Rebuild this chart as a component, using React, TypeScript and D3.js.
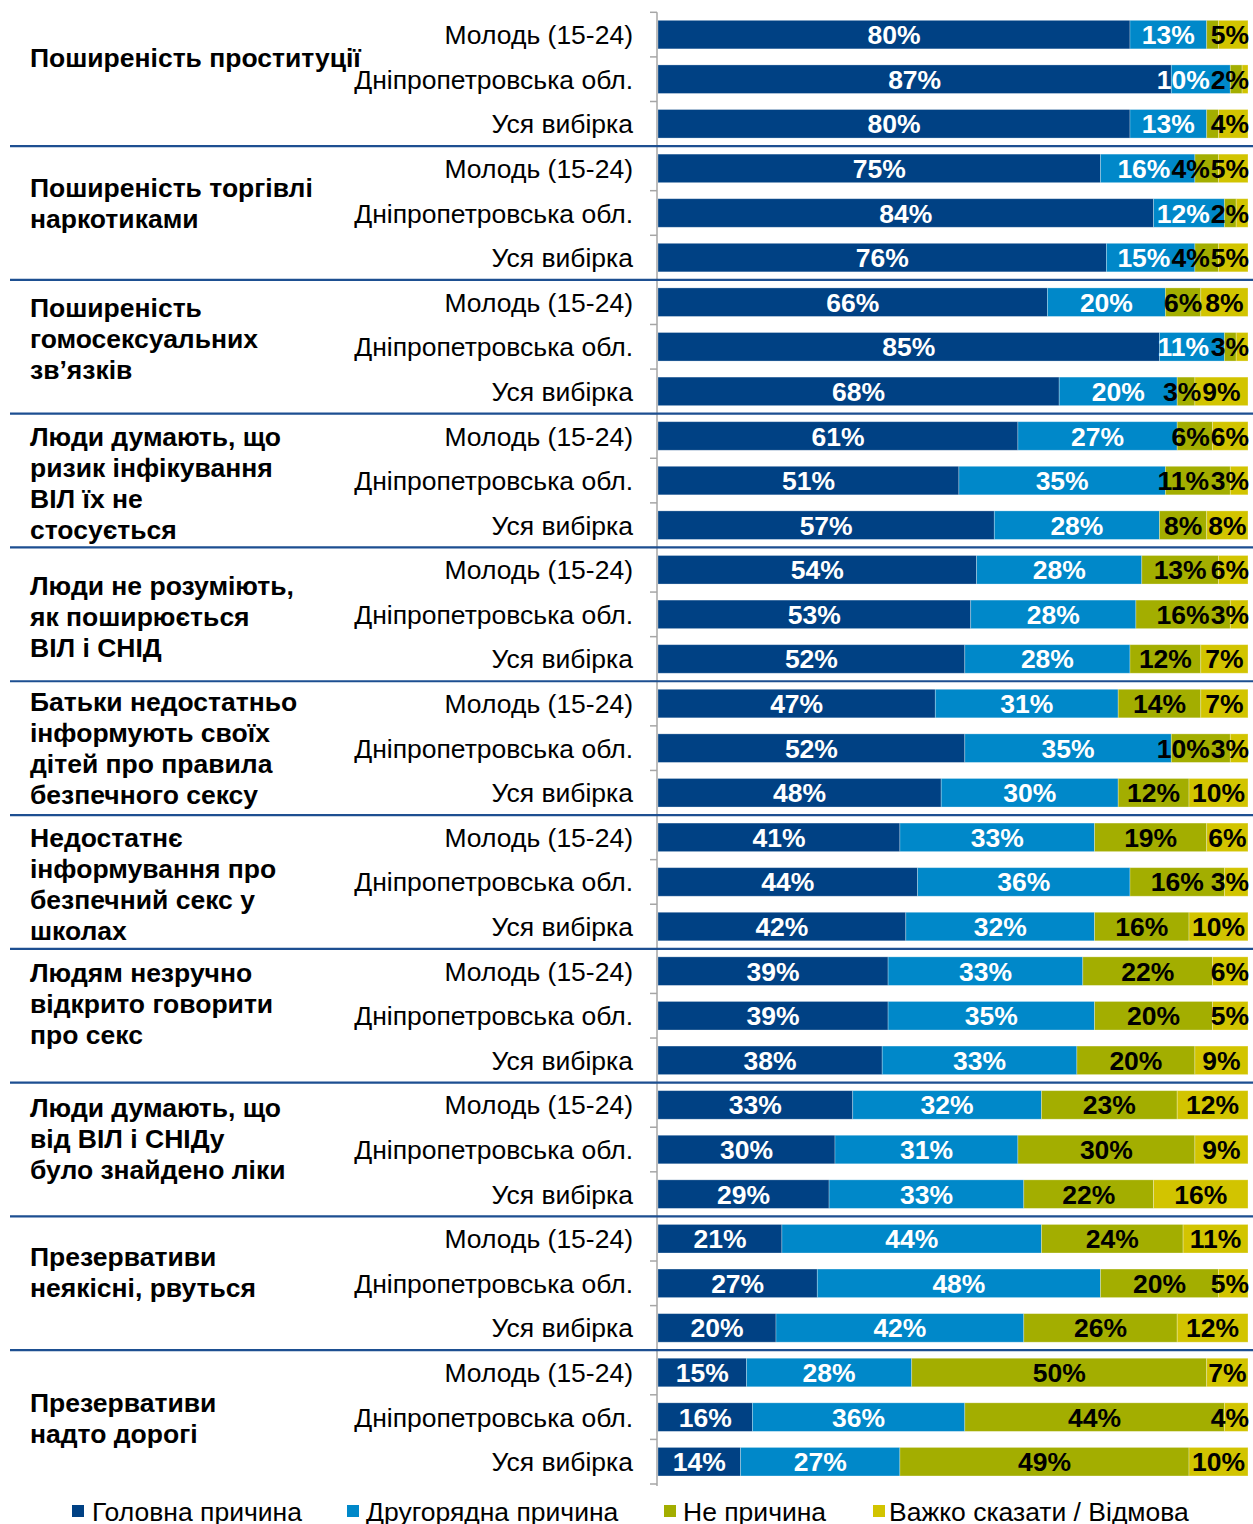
import React from "react";
import * as d3 from "d3";

const groupLabels: string[][] = [
  ["Поширеність проституції"],
  ["Поширеність торгівлі", "наркотиками"],
  ["Поширеність", "гомосексуальних", "зв’язків"],
  ["Люди думають, що", "ризик інфікування", "ВІЛ їх не", "стосується"],
  ["Люди не розуміють,", "як поширюється", "ВІЛ і СНІД"],
  ["Батьки недостатньо", "інформують своїх", "дітей про правила", "безпечного сексу"],
  ["Недостатнє", "інформування про", "безпечний секс у", "школах"],
  ["Людям незручно", "відкрито говорити", "про секс"],
  ["Люди думають, що", "від ВІЛ і СНІДу", "було знайдено ліки"],
  ["Презервативи", "неякісні, рвуться"],
  ["Презервативи", "надто дорогі"],
];

const rowLabels = ["Молодь (15-24)", "Дніпропетровська обл.", "Уся вибірка"];

const seriesNames = ["Головна причина", "Другорядна причина", "Не причина", "Важко сказати / Відмова"];

const mainReason = [80, 87, 80, 75, 84, 76, 66, 85, 68, 61, 51, 57, 54, 53, 52, 47, 52, 48, 41, 44, 42, 39, 39, 38, 33, 30, 29, 21, 27, 20, 15, 16, 14];
const secondaryReason = [13, 10, 13, 16, 12, 15, 20, 11, 20, 27, 35, 28, 28, 28, 28, 31, 35, 30, 33, 36, 32, 33, 35, 33, 32, 31, 33, 44, 48, 42, 28, 36, 27];
const notReason = [2, 2, 2, 4, 2, 4, 6, 2, 3, 6, 11, 8, 13, 16, 12, 14, 10, 12, 19, 16, 16, 22, 20, 20, 23, 30, 22, 24, 20, 26, 50, 44, 49];
const hardToSay = [5, 1, 4, 5, 2, 5, 8, 3, 9, 6, 3, 8, 6, 3, 7, 7, 3, 10, 6, 3, 10, 6, 5, 9, 12, 9, 16, 11, 5, 12, 7, 4, 10];

// labels not shown in the original (row index - series index)
const hiddenLabels = ["0-2", "1-3", "2-2", "4-3", "7-2"];

const colors = ["#004184", "#0088c9", "#a3ae00", "#d2c400"];
const labelColors = ["#ffffff", "#ffffff", "#000000", "#000000"];
const groupLabelShift = [-22, -10.5, -8, 2, 2, 0, 2, -12, -11, -11.5, 1];

const FONT = "'Liberation Sans', Arial, sans-serif";

export default function App() {
  const W = 1253;
  const H = 1524;
  const nRows = mainReason.length;
  const rows = d3.range(nRows).map((i) => ({
    i,
    v: [mainReason[i], secondaryReason[i], notReason[i], hardToSay[i]],
  }));

  const x = d3.scaleLinear().domain([0, 100]).range([658, 1248]);
  const top = 12.3;
  const bottom = 1484;
  const y = d3
    .scaleBand<number>()
    .domain(d3.range(nRows))
    .range([top, bottom])
    .paddingInner(0.36)
    .paddingOuter(0.18);
  const edge = d3.scaleLinear().domain([0, nRows]).range([top, bottom]);

  const fs = 26.5;
  const labelWidth = (t: string) => {
    const digits = t.length - 1;
    return (digits * 0.556 + 0.889) * fs;
  };

  const nGroups = groupLabels.length;

  const legendItems = [
    { x: 72, tx: 92 },
    { x: 347, tx: 366 },
    { x: 664, tx: 683 },
    { x: 873, tx: 889 },
  ];

  const segsOf = (v: number[]) => {
    let acc = 0;
    return v.map((val, s) => {
      const a = acc;
      acc += val;
      const b = s === v.length - 1 ? 100 : Math.min(acc, 100);
      return { s, a, b, val };
    });
  };

  return (
    <div style={{ position: "absolute", left: 0, top: 0 }}>
      <svg width={W} height={H} style={{ display: "block", background: "#fff" }} fontFamily={FONT}>
        {/* bars */}
        {rows.map((r) => {
          const y0 = y(r.i)!;
          const bh = y.bandwidth();
          return (
            <g key={r.i}>
              {segsOf(r.v).map((sg) => (
                <rect
                  key={sg.s}
                  x={x(sg.a)}
                  y={y0}
                  width={Math.max(0, x(sg.b) - x(sg.a))}
                  height={bh}
                  fill={colors[sg.s]}
                  stroke="#ffffff"
                  strokeOpacity={0.35}
                  strokeWidth={0.8}
                />
              ))}
            </g>
          );
        })}
        {/* bar labels */}
        {rows.map((r) => {
          const cy = y(r.i)! + y.bandwidth() / 2;
          const labs = segsOf(r.v)
            .filter((sg) => !hiddenLabels.includes(`${r.i}-${sg.s}`))
            .map((sg) => {
              const t = `${sg.val}%`;
              const w = labelWidth(t);
              return { s: sg.s, t, w, cx: (x(sg.a) + x(sg.b)) / 2 };
            });
          // keep labels inside the bar and avoid collisions, right to left
          let limit = x(100) + 1;
          for (let k = labs.length - 1; k >= 0; k--) {
            const L = labs[k];
            if (L.cx + L.w / 2 > limit) L.cx = limit - L.w / 2;
            limit = L.cx - L.w / 2 - 1;
          }
          return (
            <g key={"l" + r.i}>
              {labs.map((L) => (
                <text
                  key={L.s}
                  x={L.cx}
                  y={cy}
                  dy="0.36em"
                  textAnchor="middle"
                  fontSize={fs}
                  fontWeight="bold"
                  fill={labelColors[L.s]}
                >
                  {L.t}
                </text>
              ))}
            </g>
          );
        })}
        {/* y axis */}
        <line x1={657} x2={657} y1={edge(0)} y2={edge(nRows) + 2} stroke="#a6a6a6" strokeWidth={1.5} />
        {d3.range(nRows + 1).map((k) => (
          <line key={"t" + k} x1={650} x2={657} y1={edge(k)} y2={edge(k)} stroke="#a6a6a6" strokeWidth={1.5} />
        ))}
        {/* group separators */}
        {d3.range(1, nGroups).map((g) => (
          <line
            key={"sep" + g}
            x1={10}
            x2={W}
            y1={edge(g * 3)}
            y2={edge(g * 3)}
            stroke="#1d4f91"
            strokeWidth={2.2}
          />
        ))}
        {/* row labels */}
        {rows.map((r) => (
          <text
            key={"rl" + r.i}
            x={633}
            y={y(r.i)! + y.bandwidth() / 2}
            dy="0.36em"
            textAnchor="end"
            fontSize={26.5}
            fill="#000"
          >
            {rowLabels[r.i % 3]}
          </text>
        ))}
        {/* group labels */}
        {groupLabels.map((lines, g) => {
          const center = (edge(g * 3) + edge(g * 3 + 3)) / 2 + groupLabelShift[g];
          const lh = 31;
          const first = center - ((lines.length - 1) * lh) / 2;
          return (
            <text key={"g" + g} fontSize={26.5} fontWeight="bold" fill="#000">
              {lines.map((ln, j) => (
                <tspan key={j} x={30} y={first + j * lh} dy="0.36em">
                  {ln}
                </tspan>
              ))}
            </text>
          );
        })}
        {/* legend */}
        {seriesNames.map((name, s) => (
          <g key={"lg" + s}>
            <rect x={legendItems[s].x} y={1505} width={12} height={12} fill={colors[s]} />
            <text x={legendItems[s].tx} y={1511} dy="0.36em" fontSize={26.5} fill="#000">
              {name}
            </text>
          </g>
        ))}
      </svg>
    </div>
  );
}
